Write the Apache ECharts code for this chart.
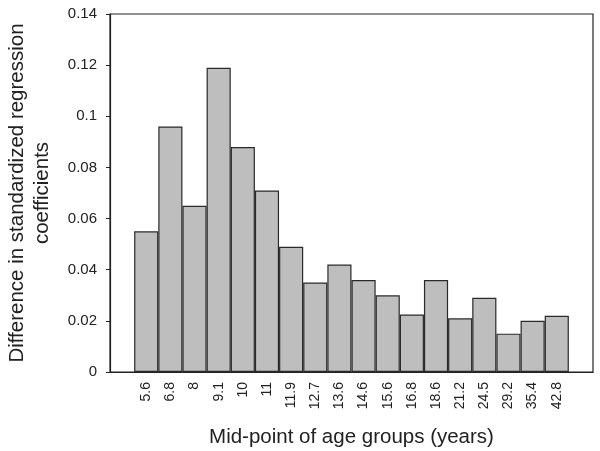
<!DOCTYPE html>
<html>
<head>
<meta charset="utf-8">
<script src="https://cdn.jsdelivr.net/npm/echarts@6/dist/echarts.min.js"></script>
<style>html,body{margin:0;padding:0;background:#fff;}#chart{width:600px;height:451px;}</style>
</head>
<body>
<div id="chart"></div>
<script>
const ageMidpoints = ['5.6','6.8','8','9.1','10','11','11.9','12.7','13.6','14.6','15.6','16.8','18.6','21.2','24.5','29.2','35.4','42.8'];
const diffValues = [0.055,0.096,0.065,0.119,0.088,0.071,0.049,0.035,0.042,0.036,0.030,0.0225,0.036,0.021,0.029,0.015,0.020,0.022];
const yTicks = [0,0.02,0.04,0.06,0.08,0.1,0.12,0.14];

const cats = [''].concat(ageMidpoints).concat(['']);
const vals = [null].concat(diffValues).concat([null]);
const font = 'Liberation Sans, Arial, sans-serif';

const chart = echarts.init(document.getElementById('chart'), null, {renderer:'canvas'});
chart.setOption({
  animation:false,
  grid:{left:110,right:7,top:14,bottom:79,show:true,borderColor:'#222',borderWidth:1.2,containLabel:false,outerBoundsMode:'none'},
  xAxis:{
    type:'category',data:cats,
    axisLine:{show:true,lineStyle:{color:'#222',width:1.2}},
    axisTick:{show:false},
    axisLabel:{rotate:90,margin:10,fontSize:14,color:'#222',fontFamily:font,interval:0},
    name:'Mid-point of age groups (years)',nameLocation:'middle',nameGap:55,
    nameTextStyle:{fontSize:20.5,color:'#222',fontFamily:font}
  },
  yAxis:{
    type:'value',min:0,max:0.14,interval:0.02,
    axisLine:{show:true,lineStyle:{color:'#222',width:1.2}},
    axisTick:{show:true,length:4,lineStyle:{color:'#222'}},
    splitLine:{show:false},
    axisLabel:{fontSize:15,color:'#222',fontFamily:font,margin:13,
      formatter:function(v){const t=yTicks.find(x=>Math.abs(x-v)<1e-9);return String(t!==undefined?t:v);}},
    name:'Difference in standardized regression\ncoefficients',nameLocation:'middle',nameGap:55,
    nameTextStyle:{fontSize:20.5,color:'#222',fontFamily:font,lineHeight:25}
  },
  series:[{
    type:'bar',data:vals,barWidth:'100%',barCategoryGap:'0%',
    itemStyle:{color:'#bebebe',borderColor:'#2a2a2a',borderWidth:1.2}
  }]
});
</script>
</body>
</html>
